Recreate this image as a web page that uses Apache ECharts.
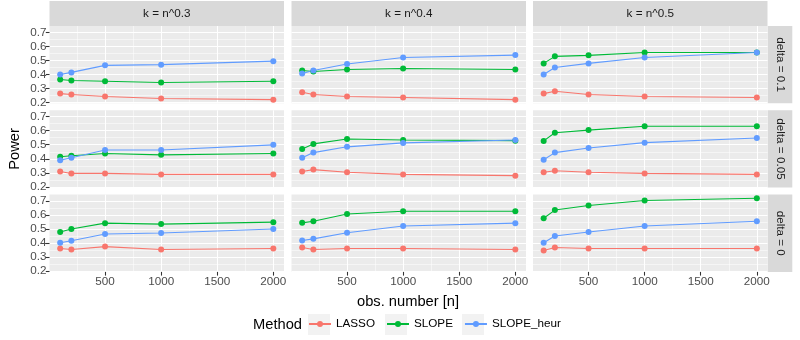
<!DOCTYPE html>
<html>
<head>
<meta charset="utf-8">
<script src="https://cdn.jsdelivr.net/npm/echarts@6/dist/echarts.min.js"></script>
<style>
  html, body { margin: 0; padding: 0; background: #fff; }
  #chart { width: 800px; height: 340px; }
</style>
</head>
<body>
<div id="chart"></div>
<script>
// x: obs. number
var nObs = [100, 200, 500, 1000, 2000];
var xTicks = [500, 1000, 1500, 2000];
var xMinorTicks = [250, 750, 1250, 1750];
var yTicks = [0.2, 0.3, 0.4, 0.5, 0.6, 0.7];
var yMinorTicks = [0.25, 0.35, 0.45, 0.55, 0.65];
var kLabels = ['k = n^0.3', 'k = n^0.4', 'k = n^0.5'];
var deltaLabels = ['delta = 0.1', 'delta = 0.05', 'delta = 0'];
var methods = ['LASSO', 'SLOPE', 'SLOPE_heur'];

// delta = 0.1
var lasso_d01_k03 = [0.264, 0.257, 0.243, 0.229, 0.221];
var slope_d01_k03 = [0.364, 0.357, 0.352, 0.343, 0.352];
var heur_d01_k03  = [0.400, 0.415, 0.465, 0.470, 0.495];
var lasso_d01_k04 = [0.274, 0.257, 0.243, 0.236, 0.221];
var slope_d01_k04 = [0.429, 0.421, 0.436, 0.443, 0.436];
var heur_d01_k04  = [0.407, 0.429, 0.474, 0.521, 0.538];
var lasso_d01_k05 = [0.264, 0.281, 0.257, 0.243, 0.236];
var slope_d01_k05 = [0.479, 0.529, 0.536, 0.557, 0.557];
var heur_d01_k05  = [0.400, 0.450, 0.479, 0.521, 0.557];
// delta = 0.05
var lasso_d005_k03 = [0.310, 0.296, 0.296, 0.289, 0.289];
var slope_d005_k03 = [0.414, 0.421, 0.437, 0.428, 0.437];
var heur_d005_k03  = [0.390, 0.407, 0.463, 0.463, 0.499];
var lasso_d005_k04 = [0.310, 0.323, 0.304, 0.289, 0.280];
var slope_d005_k04 = [0.470, 0.506, 0.541, 0.534, 0.529];
var heur_d005_k04  = [0.407, 0.444, 0.485, 0.513, 0.534];
var lasso_d005_k05 = [0.304, 0.315, 0.304, 0.296, 0.289];
var slope_d005_k05 = [0.527, 0.585, 0.604, 0.632, 0.632];
var heur_d005_k05  = [0.393, 0.444, 0.477, 0.515, 0.548];
// delta = 0
var lasso_d0_k03 = [0.361, 0.354, 0.375, 0.354, 0.361];
var slope_d0_k03 = [0.479, 0.500, 0.542, 0.535, 0.549];
var heur_d0_k03  = [0.403, 0.417, 0.465, 0.472, 0.500];
var lasso_d0_k04 = [0.368, 0.354, 0.361, 0.361, 0.354];
var slope_d0_k04 = [0.544, 0.556, 0.607, 0.626, 0.626];
var heur_d0_k04  = [0.419, 0.430, 0.474, 0.521, 0.542];
var lasso_d0_k05 = [0.347, 0.368, 0.361, 0.361, 0.361];
var slope_d0_k05 = [0.577, 0.635, 0.668, 0.703, 0.719];
var heur_d0_k05  = [0.403, 0.451, 0.479, 0.521, 0.556];

// panels row by row (delta), columns (k)
var panels = [
  [lasso_d01_k03, slope_d01_k03, heur_d01_k03],
  [lasso_d01_k04, slope_d01_k04, heur_d01_k04],
  [lasso_d01_k05, slope_d01_k05, heur_d01_k05],
  [lasso_d005_k03, slope_d005_k03, heur_d005_k03],
  [lasso_d005_k04, slope_d005_k04, heur_d005_k04],
  [lasso_d005_k05, slope_d005_k05, heur_d005_k05],
  [lasso_d0_k03, slope_d0_k03, heur_d0_k03],
  [lasso_d0_k04, slope_d0_k04, heur_d0_k04],
  [lasso_d0_k05, slope_d0_k05, heur_d0_k05]
];

var colors = ['#F8766D', '#00BA38', '#619CFF'];
var font = '"Liberation Sans", Arial, sans-serif';

// 面板位置
var colLeft = [49.5, 291.5, 533];
var colW = 234.5;
var rowTop = [26, 110.3, 194.6];
var rowH = 77.3;

var chart = echarts.init(document.getElementById('chart'));

var grids = [], xAxes = [], yAxes = [], series = [], graphics = [];

panels.forEach(function (panel, p) {
  var r = Math.floor(p / 3), c = p % 3;
  grids.push({
    left: colLeft[c], top: rowTop[r], width: colW, height: rowH,
    show: true, backgroundColor: '#EBEBEB', borderWidth: 0
  });
  // 主刻度
  xAxes.push({
    type: 'value', gridIndex: p, min: 5, max: 2095,
    axisLine: { show: false },
    axisTick: { show: r === 2, customValues: xTicks, length: 3.7, lineStyle: { color: '#333333', width: 1.07 } },
    axisLabel: { show: r === 2, customValues: xTicks, color: '#4D4D4D', fontSize: 11.7, fontFamily: font, margin: 4,
      formatter: function (v) { return String(v); } },
    splitLine: { show: true, lineStyle: { color: '#FFFFFF', width: 1.07 } }
  });
  // 次刻度
  xAxes.push({
    type: 'value', gridIndex: p, min: 5, max: 2095,
    axisLine: { show: false },
    axisTick: { show: false, customValues: xMinorTicks },
    axisLabel: { show: false, customValues: xMinorTicks },
    splitLine: { show: true, lineStyle: { color: '#FFFFFF', width: 0.53 } }
  });
  yAxes.push({
    type: 'value', gridIndex: p, min: 0.195, max: 0.745,
    axisLine: { show: false },
    axisTick: { show: c === 0, customValues: yTicks, length: 3.7, lineStyle: { color: '#333333', width: 1.07 } },
    axisLabel: { show: c === 0, customValues: yTicks, color: '#4D4D4D', fontSize: 11.7, fontFamily: font, margin: 3,
      formatter: function (v) { return v.toFixed(1); } },
    splitLine: { show: true, lineStyle: { color: '#FFFFFF', width: 1.07 } }
  });
  yAxes.push({
    type: 'value', gridIndex: p, min: 0.195, max: 0.745, position: 'left',
    axisLine: { show: false },
    axisTick: { show: false, customValues: yMinorTicks },
    axisLabel: { show: false, customValues: yMinorTicks },
    splitLine: { show: true, lineStyle: { color: '#FFFFFF', width: 0.53 } }
  });
  panel.forEach(function (vals, m) {
    series.push({
      type: 'line', name: methods[m],
      xAxisIndex: 2 * p, yAxisIndex: 2 * p,
      data: nObs.map(function (n, i) { return [n, vals[i]]; }),
      symbol: 'circle', symbolSize: 6, showSymbol: true,
      lineStyle: { color: colors[m], width: 1.07 },
      itemStyle: { color: colors[m] },
      silent: true, animation: false
    });
  });
});

// 顶部分面标签
kLabels.forEach(function (t, c) {
  graphics.push({ type: 'rect', shape: { x: colLeft[c], y: 1, width: colW, height: 25 }, style: { fill: '#D9D9D9' } });
  graphics.push({ type: 'text', x: colLeft[c] + colW / 2, y: 13.5,
    style: { text: t, fill: '#1A1A1A', font: '11.7px ' + font, textAlign: 'center', textVerticalAlign: 'middle' } });
});
// 右侧分面标签
deltaLabels.forEach(function (t, r) {
  graphics.push({ type: 'rect', shape: { x: 767.7, y: rowTop[r], width: 24.6, height: rowH }, style: { fill: '#D9D9D9' } });
  graphics.push({ type: 'text', x: 780, y: rowTop[r] + rowH / 2, rotation: -Math.PI / 2,
    style: { text: t, fill: '#1A1A1A', font: '11.7px ' + font, textAlign: 'center', textVerticalAlign: 'middle' } });
});
// 轴标题
graphics.push({ type: 'text', x: 408, y: 302,
  style: { text: 'obs. number [n]', fill: '#000', font: '14.7px ' + font, textAlign: 'center', textVerticalAlign: 'middle' } });
graphics.push({ type: 'text', x: 15, y: 149, rotation: Math.PI / 2,
  style: { text: 'Power', fill: '#000', font: '14.7px ' + font, textAlign: 'center', textVerticalAlign: 'middle' } });
// 图例
graphics.push({ type: 'text', x: 253, y: 325,
  style: { text: 'Method', fill: '#000', font: '14.7px ' + font, textAlign: 'left', textVerticalAlign: 'middle' } });
[308, 385, 462].forEach(function (x) {
  graphics.push({ type: 'rect', shape: { x: x, y: 314, width: 22, height: 21 }, style: { fill: '#F2F2F2' } });
});

var option = {
  animation: false,
  grid: grids,
  xAxis: xAxes,
  yAxis: yAxes,
  series: series,
  legend: {
    data: methods, left: 308, top: 318, padding: 0,
    itemWidth: 22, itemHeight: 7.5, itemGap: 11,
    textStyle: { color: '#000', fontSize: 11.7, fontFamily: font }
  },
  graphic: graphics
};
chart.setOption(option);
</script>
</body>
</html>
